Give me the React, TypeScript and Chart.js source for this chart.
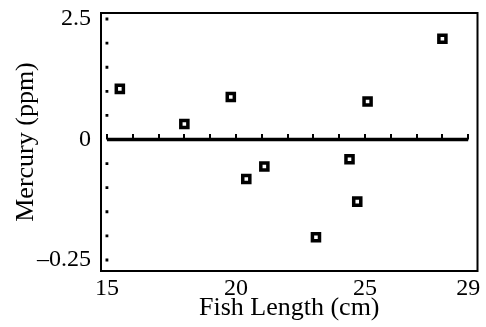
import { useEffect, useRef } from "react";
import { Chart, registerables } from "chart.js";

Chart.register(...registerables);

// Residual plot data (fish length in cm vs residual mercury in ppm)
const fishLength = [15.5, 18.0, 19.8, 20.4, 21.1, 23.1, 24.4, 24.7, 25.1, 28.0];
const residual = [0.105, 0.032, 0.088, -0.082, -0.056, -0.203, -0.041, -0.129, 0.079, 0.209];

const xTickValues = [15, 20, 25, 29];
const xTickLabels = ["15", "20", "25", "29"];
const yTickValues = [-0.25, 0, 0.25];
const yTickLabels = ["\u20130.25", "0", "2.5"];

const xMinorTicks = [15, 16, 17, 18, 19, 20, 21, 22, 23, 24, 25, 26, 27, 28, 29];
const yMinorTicks = [-0.25, -0.2, -0.15, -0.1, -0.05, 0.05, 0.1, 0.15, 0.2, 0.25];

const xMin = 14.77;
const xMax = 29.36;
const yMin = -0.2729;
const yMax = 0.2625;

const FONT = "'Liberation Serif', 'Times New Roman', serif";

const framePlugin = {
  id: "frame",
  afterDatasetsDraw(chart: any) {
    const { ctx, chartArea: a, scales } = chart;
    const x = scales.x;
    const y = scales.y;
    ctx.save();
    ctx.strokeStyle = "#000";
    ctx.lineWidth = 2;
    ctx.strokeRect(a.left, a.top, a.right - a.left, a.bottom - a.top);
    const y0 = y.getPixelForValue(0);
    ctx.beginPath();
    for (const v of xMinorTicks) {
      const px = Math.round(x.getPixelForValue(v));
      ctx.moveTo(px, y0);
      ctx.lineTo(px, y0 - 5.5);
    }
    ctx.stroke();
    ctx.restore();
  },
};

export default function App() {
  const ref = useRef<HTMLCanvasElement | null>(null);

  useEffect(() => {
    if (!ref.current) return;
    const chart = new Chart(ref.current, {
      type: "scatter",
      data: {
        datasets: [
          {
            type: "line",
            data: [
              { x: xMinorTicks[0], y: 0 },
              { x: xMinorTicks[xMinorTicks.length - 1], y: 0 },
            ],
            borderColor: "#000",
            borderWidth: 3.5,
            pointRadius: 0,
            fill: false,
          } as any,
          {
            data: yMinorTicks.map((v) => ({ x: xMinorTicks[0], y: v })),
            pointStyle: "rect",
            pointRadius: 2,
            backgroundColor: "#000",
            borderColor: "#000",
            borderWidth: 0,
          },
          {
            data: fishLength.map((v, i) => ({ x: v, y: residual[i] })),
            pointStyle: "rect",
            pointRadius: 5,
            borderWidth: 3.5,
            borderColor: "#000",
            backgroundColor: "#fff",
          },
        ],
      },
      options: {
        responsive: false,
        animation: false,
        events: [],
        layout: { padding: { top: 13, right: 3.5, bottom: 0, left: 0 } },
        plugins: {
          legend: { display: false },
          tooltip: { enabled: false },
        },
        scales: {
          x: {
            type: "linear",
            min: xMin,
            max: xMax,
            grid: { display: false, drawTicks: false },
            border: { display: false },
            afterBuildTicks: (s: any) => {
              s.ticks = xTickValues.map((v) => ({ value: v }));
            },
            afterFit: (s: any) => {
              s.height = 56;
              s.paddingLeft = 0;
              s.paddingRight = 0;
            },
            ticks: {
              padding: 3,
              color: "#000",
              font: { family: FONT, size: 24 },
              maxRotation: 0,
              autoSkip: false,
              callback: (v: any) => {
                const i = xTickValues.indexOf(Number(v));
                return i >= 0 ? xTickLabels[i] : "";
              },
            },
            title: {
              display: true,
              text: "Fish Length (cm)",
              color: "#000",
              font: { family: FONT, size: 26 },
              padding: { top: 0, bottom: 3 },
            },
          },
          y: {
            type: "linear",
            min: yMin,
            max: yMax,
            grid: { display: false, drawTicks: false },
            border: { display: false },
            afterBuildTicks: (s: any) => {
              s.ticks = yTickValues.map((v) => ({ value: v }));
            },
            afterFit: (s: any) => {
              s.width = 101;
              s.paddingTop = 0;
              s.paddingBottom = 0;
            },
            ticks: {
              padding: 10,
              color: "#000",
              font: { family: FONT, size: 24 },
              autoSkip: false,
              callback: (v: any) => {
                const i = yTickValues.indexOf(Number(v));
                return i >= 0 ? yTickLabels[i] : "";
              },
            },
            title: {
              display: true,
              text: "Mercury (ppm)",
              color: "#000",
              font: { family: FONT, size: 26 },
              padding: { top: 11, bottom: 0 },
            },
          },
        },
      },
      plugins: [framePlugin],
    });
    return () => chart.destroy();
  }, []);

  return (
    <div style={{ position: "fixed", left: 0, top: 0, width: 486, height: 327, background: "#fff" }}>
      <canvas ref={ref} width={486} height={327} style={{ display: "block" }} />
    </div>
  );
}
